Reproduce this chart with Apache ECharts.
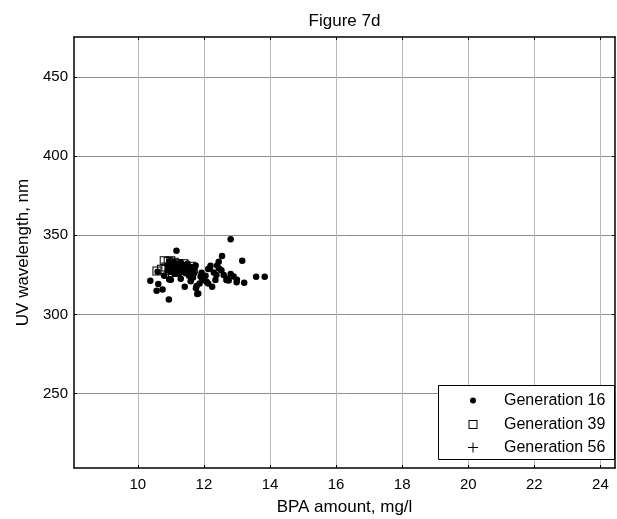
<!DOCTYPE html>
<html>
<head>
<meta charset="utf-8">
<script src="https://cdn.jsdelivr.net/npm/echarts@6/dist/echarts.min.js"></script>
<style>
  html, body { margin: 0; padding: 0; background: #fff; }
  #chart { width: 617px; height: 519px; }
</style>
</head>
<body>
<div id="chart"></div>
<script>
// Axis ranges and tick positions
const xRange = [8.07, 24.44];
const yRange = [203, 475.3];
const xTicks = [10, 12, 14, 16, 18, 20, 22, 24];
const yTicks = [250, 300, 350, 400, 450];

// Generation 16 (filled dots)
const gen16X = [11.17, 10.38, 10.62, 10.57, 10.75, 10.94, 10.95, 11.42, 11.76, 11.83,
  11.87, 11.93, 11.67, 12.13, 12.18, 12.81, 13.16, 12.55, 12.45, 12.20,
  12.13, 12.46, 12.53, 12.38, 12.60, 12.68, 12.81, 12.99, 13.22, 13.58,
  13.84, 12.08, 12.25, 11.78, 11.80, 11.55, 11.70, 11.90, 12.35, 12.70,
  11.60, 12.00, 12.30, 12.90, 12.40, 11.30, 11.10, 10.80, 10.60, 10.90,
  11.00, 11.10, 11.20, 11.30, 11.40, 11.50, 11.00, 11.20, 11.40, 11.60,
  11.10, 11.30, 10.90, 11.50, 11.25, 11.45, 11.70, 11.05, 11.35, 10.95,
  11.55, 11.15, 11.75, 11.00, 12.75, 13.00, 12.05, 11.95];
const gen16Y = [340.2, 321.3, 319.2, 315.0, 315.8, 309.5, 322.1, 317.5, 316.5, 313.3,
  319.6, 326.3, 323.4, 319.6, 329.1, 347.6, 334.0, 336.9, 333.3, 330.8,
  328.7, 329.1, 328.0, 324.9, 325.0, 321.7, 325.5, 320.3, 320.0, 323.8,
  323.8, 320.7, 317.5, 318.0, 313.0, 324.5, 326.0, 324.0, 321.7, 322.5,
  321.0, 322.0, 326.5, 324.0, 331.0, 322.5, 326.0, 324.5, 327.0, 328.0,
  330.0, 331.0, 329.0, 330.0, 331.0, 329.0, 327.0, 327.0, 328.0, 330.0,
  333.0, 333.0, 331.0, 332.0, 325.5, 326.0, 329.0, 329.0, 327.0, 333.5,
  327.0, 328.5, 331.0, 322.0, 321.5, 322.0, 324.5, 322.5];

// Generation 39 (open squares)
const gen39X = [10.58, 10.72, 10.80, 10.92, 11.00, 11.10, 10.85, 11.00, 11.15, 11.25,
  11.35, 11.45, 11.55, 11.68, 11.62, 10.95, 11.10, 11.30, 11.20, 11.05, 11.40];
const gen39Y = [327.5, 328.5, 334.0, 333.5, 334.0, 333.0, 330.0, 331.0, 330.5, 331.0,
  330.0, 329.5, 329.0, 328.5, 330.5, 328.0, 328.0, 328.5, 332.0, 326.5, 332.0];

// Generation 56 (plus markers)
const gen56X = [11.00, 11.10, 11.20, 11.05, 11.15, 11.25];
const gen56Y = [330.0, 329.5, 330.0, 331.0, 331.0, 329.0];

const toPairs = (xs, ys) => xs.map((x, i) => [x, ys[i]]);

const FONT = '"Liberation Sans", Arial, Helvetica, sans-serif';
// hollow square outline and thin plus, both as filled paths
const squarePath = 'path://M0,0h9v9h-9z M1,1v7h7v-7z';
const plusPath = 'path://M4.5,0h1v10h-1z M0,4.5h10v1h-10z';

const chart = echarts.init(document.getElementById('chart'), null, { renderer: 'canvas' });

const boxLine = { show: true, onZero: false, lineStyle: { color: '#000', width: 1.5 } };
const innerTick = (vals) => ({ show: true, inside: true, length: 3, customValues: vals, lineStyle: { color: '#000', width: 1 } });

// legend entries: icon centred at x=473, label starting at x=504
const legendBase = {
  orient: 'vertical',
  padding: 0,
  itemWidth: 52,
  selectedMode: false,
  symbolKeepAspect: true,
  textStyle: { fontFamily: FONT, fontSize: 16, color: '#000', lineHeight: 17 }
};

chart.setOption({
  animation: false,
  backgroundColor: '#fff',
  grid: { left: 74, top: 37, right: 2, bottom: 51, containLabel: false, outerBoundsMode: 'none' },
  xAxis: [
    {
      type: 'value', position: 'bottom', min: xRange[0], max: xRange[1],
      name: 'BPA amount, mg/l', nameLocation: 'middle', nameGap: 31,
      nameTextStyle: { fontFamily: FONT, fontSize: 17, color: '#000' },
      axisLine: boxLine,
      axisTick: innerTick(xTicks),
      axisLabel: { customValues: xTicks, margin: 9, fontFamily: FONT, fontSize: 15, color: '#000' },
      splitLine: { show: true, lineStyle: { color: '#b8b8b8', width: 1 } }
    },
    {
      type: 'value', position: 'top', min: xRange[0], max: xRange[1],
      name: 'Figure 7d', nameLocation: 'middle', nameGap: 7,
      nameTextStyle: { fontFamily: FONT, fontSize: 17, color: '#000' },
      axisLine: boxLine,
      axisTick: innerTick(xTicks),
      axisLabel: { show: false },
      splitLine: { show: false }
    }
  ],
  yAxis: [
    {
      type: 'value', position: 'left', min: yRange[0], max: yRange[1],
      name: 'UV wavelength, nm', nameLocation: 'middle', nameGap: 41, nameRotate: 90,
      nameTextStyle: { fontFamily: FONT, fontSize: 17, color: '#000' },
      axisLine: boxLine,
      axisTick: innerTick(yTicks),
      axisLabel: { customValues: yTicks, margin: 6, fontFamily: FONT, fontSize: 15, color: '#000' },
      splitLine: { show: true, lineStyle: { color: '#8f8f8f', width: 1 } }
    },
    {
      type: 'value', position: 'right', min: yRange[0], max: yRange[1],
      axisLine: boxLine,
      axisTick: innerTick(yTicks),
      axisLabel: { show: false },
      splitLine: { show: false }
    }
  ],
  graphic: [
    {
      type: 'rect', z: 3,
      shape: { x: 438.5, y: 385.5, width: 176, height: 74 },
      style: { fill: '#fff', stroke: '#000', lineWidth: 1 }
    }
  ],
  legend: [
    Object.assign({}, legendBase, { data: ['Generation 16'], left: 470, top: 392, itemHeight: 6 }),
    Object.assign({}, legendBase, { data: ['Generation 39'], left: 468.5, top: 416, itemHeight: 9 }),
    Object.assign({}, legendBase, { data: ['Generation 56'], left: 468, top: 439, itemHeight: 10 })
  ],
  series: [
    {
      name: 'Generation 16', type: 'scatter', symbol: 'circle', symbolSize: 6.5,
      itemStyle: { color: '#000', opacity: 1 },
      data: toPairs(gen16X, gen16Y), z: 2
    },
    {
      name: 'Generation 39', type: 'scatter', symbol: squarePath, symbolSize: 9,
      itemStyle: { color: '#000', opacity: 1 },
      data: toPairs(gen39X, gen39Y), z: 2
    },
    {
      name: 'Generation 56', type: 'scatter', symbol: plusPath, symbolSize: 8,
      itemStyle: { color: '#000', opacity: 1 },
      data: toPairs(gen56X, gen56Y), z: 2
    }
  ]
});
</script>
</body>
</html>
